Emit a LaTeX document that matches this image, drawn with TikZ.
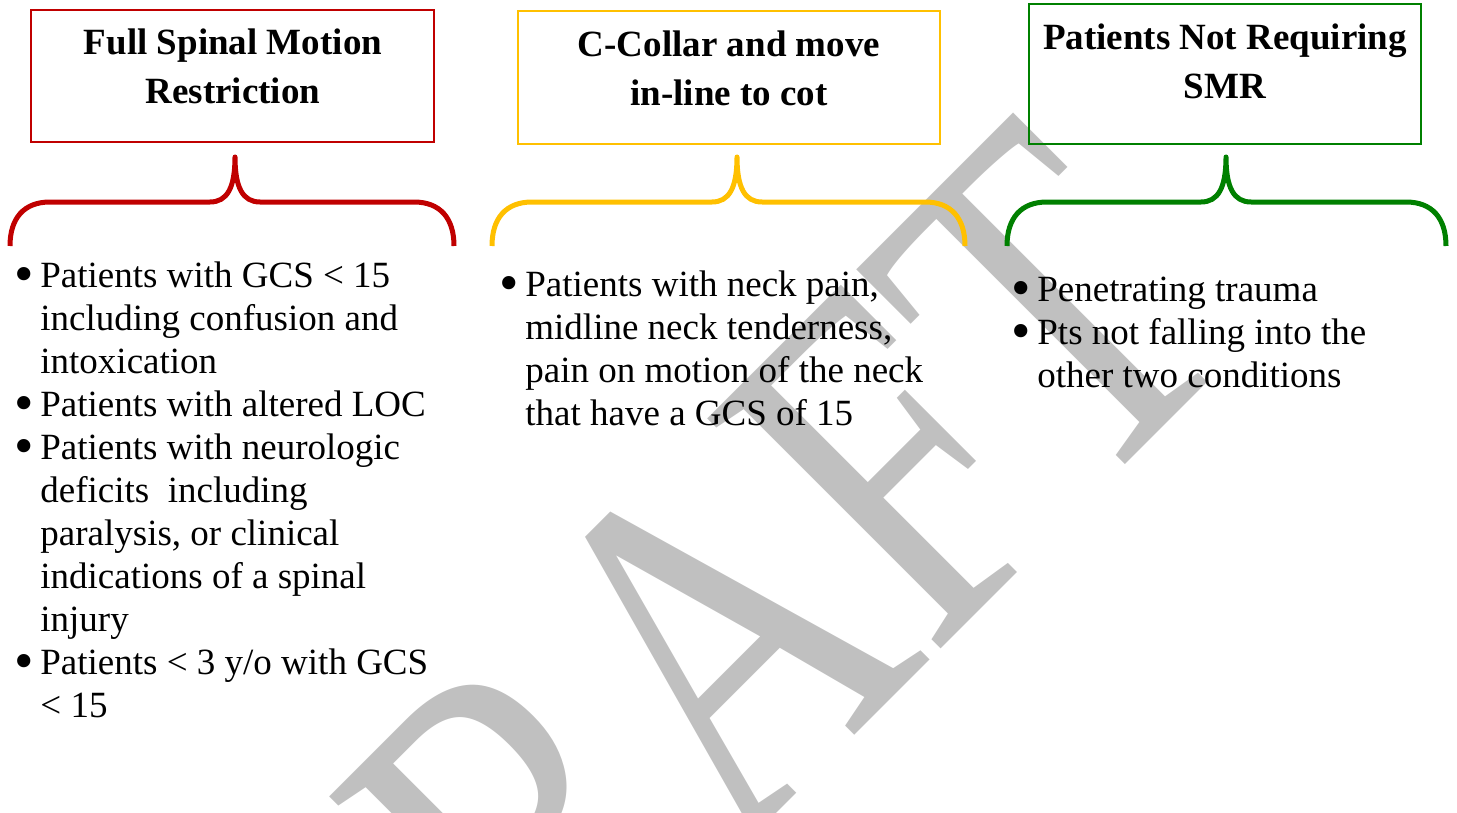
\documentclass[tikz,border=0pt]{standalone}
\usepackage{fontspec}
\setmainfont{Liberation Serif}

\definecolor{smrred}{HTML}{C00000}
\definecolor{smrgold}{HTML}{FFC000}
\definecolor{smrgreen}{HTML}{008000}
\definecolor{draftgray}{HTML}{C0C0C0}

\newcommand{\listdot}{\makebox[13pt][l]{\raisebox{-0.14em}{\scalebox{1.5}{\textbullet}}}}
\newcommand{\listindent}{\hspace*{13pt}}

% brace under a box: colour, left end, tip, right end
\newcommand{\groupbrace}[4]{%
    \draw[brace line, #1] (#2,246) .. controls (#2,218) and ({#2+14},202) .. ({#2+40},202)
        -- ({#3-25},202) .. controls ({#3-8},202) and (#3,188) .. (#3,157)
        .. controls (#3,188) and ({#3+8},202) .. ({#3+25},202)
        -- ({#4-40},202) .. controls ({#4-14},202) and (#4,218) .. (#4,246);}

\begin{document}
\begin{tikzpicture}[
        x=0.5pt, y=-0.5pt,
        every node/.style={
            inner sep=0pt
        },
        title/.style={font=\fontsize{18.5}{24.5}\selectfont\bfseries, align=center},
        points/.style={font=\fontsize{18.5}{21.5}\selectfont, align=left, anchor=north west},
        watermark/.style={font=\fontsize{192.5}{230}\selectfont, text=draftgray,
            anchor=base west, rotate=45, yscale=1.3},
        box line/.style={line width=1pt},
        brace line/.style={line width=2.5pt, line join=round}
    ]
        \useasboundingbox (0,0) rectangle (1457,813);

        % Watermark
        \begin{scope}
            \clip (0,0) rectangle (1457,813);
            \node[watermark] (draft) at (357,1233) {DRAFT};
        \end{scope}

        % Block 1
        \begin{scope}
            \draw[box line, smrred] (31,10) rectangle (434,142);

            \node[title] (full) at (233,66) {Full Spinal Motion\\Restriction};

            \groupbrace{smrred}{10}{235}{454}

            \node[points] (fulllist) at (14,257) {\strut\listdot Patients with GCS < 15\\
                \listindent including confusion and\\
                \listindent intoxication\\
                \listdot Patients with altered LOC\\
                \listdot Patients with neurologic\\
                \listindent deficits\ \ including\\
                \listindent paralysis, or clinical\\
                \listindent indications of a spinal\\
                \listindent injury\\
                \listdot Patients < 3 y/o with GCS\\
                \listindent < 15};
        \end{scope}

        % Block 2
        \begin{scope}
            \draw[box line, smrgold] (518,11) rectangle (940,144);

            \node[title] (collar) at (729,68) {C-Collar and move\\in-line to cot};

            \groupbrace{smrgold}{492}{737}{965}

            \node[points] (collarlist) at (499,266) {\strut\listdot Patients with neck pain,\\
                \listindent midline neck tenderness,\\
                \listindent pain on motion of the neck\\
                \listindent that have a GCS of 15};
        \end{scope}

        % Block 3
        \begin{scope}
            \draw[box line, smrgreen] (1029,4) rectangle (1421,144);

            \node[title] (nosmr) at (1225,61) {Patients Not Requiring\\SMR};

            \groupbrace{smrgreen}{1007}{1226}{1446}

            \node[points] (nosmrlist) at (1011,271) {\strut\listdot Penetrating trauma\\
                \listdot Pts not falling into the\\
                \listindent other two conditions};
        \end{scope}

    \end{tikzpicture}
\end{document}
